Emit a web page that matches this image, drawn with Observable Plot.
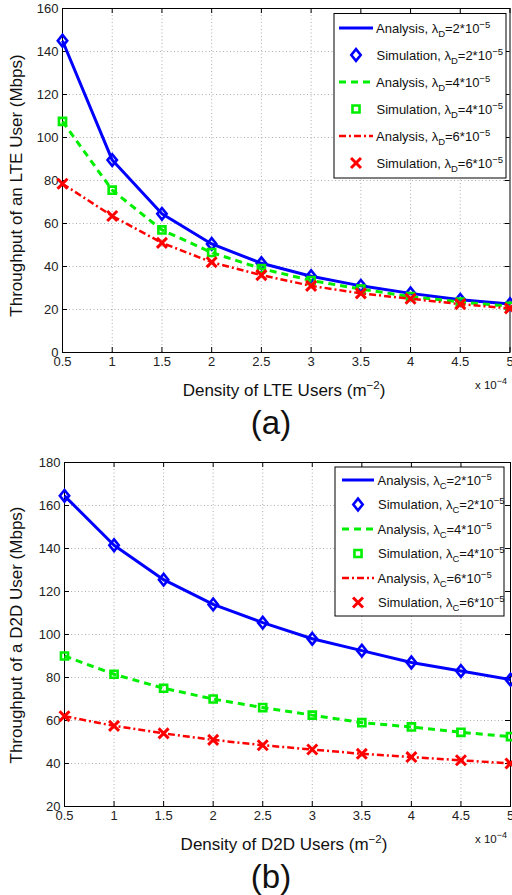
<!DOCTYPE html>
<html><head><meta charset="utf-8">
<script src="https://cdn.jsdelivr.net/npm/d3@7"></script>
<script src="https://cdn.jsdelivr.net/npm/@observablehq/plot@0.6"></script>
<style>
html,body{margin:0;padding:0;background:#fff;}
#root{position:relative;width:512px;height:895px;overflow:hidden;font-family:"Liberation Sans",Arial,Helvetica,sans-serif;}
#root svg{position:absolute;left:0;overflow:visible;}
</style></head>
<body><div id="root"></div>
<script>
// ---------- data ----------
const density = [0.5, 1, 1.5, 2, 2.5, 3, 3.5, 4, 4.5, 5]; // x 10^-4 users per m^2
const xTicks = [0.5, 1, 1.5, 2, 2.5, 3, 3.5, 4, 4.5, 5];
const yTicksA = [0, 20, 40, 60, 80, 100, 120, 140, 160];
const yTicksB = [20, 40, 60, 80, 100, 120, 140, 160, 180];
const lambdaValues = ["2", "4", "6"];

// (a) Throughput of an LTE user, lambda_D = 2,4,6 *10^-5
const lteAnalysis2 = [145, 89.5, 64.5, 50.5, 41.5, 35.5, 31, 27.5, 24.5, 22.5];
const lteAnalysis4 = [107.5, 75.5, 57, 46.5, 39, 33.5, 29.5, 26, 23.5, 21.5];
const lteAnalysis6 = [78.5, 63.5, 51, 42, 36, 31, 27.5, 25, 22.5, 20.5];
const lteSim2 = [145, 89.5, 64.5, 50.5, 41.5, 35.5, 31, 27.5, 24.5, 22.5];
const lteSim4 = [107.5, 75.5, 57, 46.5, 39, 33.5, 29.5, 26, 23.5, 21.5];
const lteSim6 = [78.5, 63.5, 51, 42, 36, 31, 27.5, 25, 22.5, 20.5];

// (b) Throughput of a D2D user, lambda_C = 2,4,6 *10^-5
const d2dAnalysis2 = [164.5, 141.5, 125.5, 114, 105.5, 98, 92.5, 87, 83, 79];
const d2dAnalysis4 = [90, 81.5, 75, 70, 66, 62.5, 59, 57, 54.5, 52.5];
const d2dAnalysis6 = [62, 57.5, 54, 51, 48.5, 46.5, 44.5, 43, 41.5, 40];
const d2dSim2 = [164.5, 141.5, 125.5, 114, 105.5, 98, 92.5, 87, 83, 79];
const d2dSim4 = [90, 81.5, 75, 70, 66, 62.5, 59, 57, 54.5, 52.5];
const d2dSim6 = [62, 57.5, 54, 51, 48.5, 46.5, 44.5, 43, 41.5, 40];

// ---------- styles ----------
const diamondSym = {draw(c, size) {
  const s = Math.sqrt(size), h = s * 0.66, w = s * 0.53;
  c.moveTo(0, -h); c.lineTo(w, 0); c.lineTo(0, h); c.lineTo(-w, 0); c.closePath();
}};
const seriesStyles = [
  {stroke: "#0000ff", dash: null, width: 3, symbol: diamondSym, r: 5, mw: 2.6},
  {stroke: "#00ee00", dash: "7,5", width: 3, symbol: "square", r: 4, mw: 2.6},
  {stroke: "#ff0000", dash: "7,3,2,3", width: 2.5, symbol: "times", r: 4.6, mw: 3}
];
const FONT = '"Liberation Sans", Arial, Helvetica, sans-serif';

const panels = [
  {top: 0, marginLeft: 62, marginRight: 2.5, yDomain: [0, 160], yTicks: yTicksA,
   analysis: [lteAnalysis2, lteAnalysis4, lteAnalysis6], sims: [lteSim2, lteSim4, lteSim6],
   greek: "D", yLabel: "Throughput of an LTE User (Mbps)", xLabel: "Density of LTE Users (m", tag: "(a)",
   yLabelY: 185.5,
   legend: {x0: 334, x1: 506, y0: 13.5, y1: 178, row0: 28, step: 27, lx0: 339, lx1: 373, tx: 376}},
  {top: 454, marginLeft: 64, marginRight: 2, yDomain: [20, 180], yTicks: yTicksB,
   analysis: [d2dAnalysis2, d2dAnalysis4, d2dAnalysis6], sims: [d2dSim2, d2dSim4, d2dSim6],
   greek: "C", yLabel: "Throughput of a D2D User (Mbps)", xLabel: "Density of D2D Users (m", tag: "(b)",
   yLabelY: 181,
   legend: {x0: 335, x1: 504, y0: 13, y1: 162, row0: 26, step: 24.5, lx0: 342, lx1: 374, tx: 377.5}}
];

const W = 512, H = 441, MT = 8, MB = 89;
const root = document.getElementById("root");

for (const p of panels) {
  const innerW = W - p.marginLeft - p.marginRight;
  const innerH = H - MT - MB;
  const marks = [
    Plot.ruleX(xTicks.slice(1, -1), {stroke: "#9a9a9a", strokeWidth: 0.8, strokeDasharray: "1,2.5"}),
    Plot.ruleY(p.yTicks.slice(1, -1), {stroke: "#9a9a9a", strokeWidth: 0.8, strokeDasharray: "1,2.5"}),
    Plot.ruleX(xTicks, {stroke: "#000", strokeWidth: 1, insetTop: innerH - 5}),
    Plot.ruleX(xTicks, {stroke: "#000", strokeWidth: 1, insetBottom: innerH - 5}),
    Plot.ruleY(p.yTicks, {stroke: "#000", strokeWidth: 1, insetRight: innerW - 5}),
    Plot.ruleY(p.yTicks, {stroke: "#000", strokeWidth: 1, insetLeft: innerW - 5}),
    Plot.frame({stroke: "#000", strokeWidth: 1})
  ];
  p.analysis.forEach((vals, i) => {
    const s = seriesStyles[i];
    const rows = density.map((x, j) => ({x, y: vals[j]}));
    marks.push(Plot.line(rows, {x: "x", y: "y", stroke: s.stroke, strokeWidth: s.width,
      strokeDasharray: s.dash, strokeLinejoin: "round", strokeLinecap: "butt"}));
    const simRows = density.map((x, j) => ({x, y: p.sims[i][j]}));
    marks.push(Plot.dot(simRows, {x: "x", y: "y", symbol: s.symbol, r: s.r, stroke: s.stroke,
      strokeWidth: s.mw, fill: "none"}));
  });

  const svg = Plot.plot({
    width: W, height: H, marginTop: MT, marginBottom: MB,
    marginLeft: p.marginLeft, marginRight: p.marginRight,
    style: {fontFamily: FONT, fontSize: "13px", color: "#222", background: "transparent", overflow: "visible"},
    x: {domain: [0.5, 5], ticks: xTicks, tickSize: 0, tickPadding: 4, label: null, tickFormat: d => String(d)},
    y: {domain: p.yDomain, ticks: p.yTicks, tickSize: 0, tickPadding: 4, label: null, tickFormat: d => String(d)},
    marks
  });
  svg.style.top = p.top + "px";
  root.appendChild(svg);

  const g = d3.select(svg).append("g").attr("font-family", FONT).attr("fill", "#111")
    .attr("text-anchor", "start");

  // y label
  g.append("text").attr("transform", `translate(17.5,${p.yLabelY}) rotate(-90)`)
    .attr("text-anchor", "middle").attr("dominant-baseline", "middle")
    .attr("font-size", 17).text(p.yLabel);

  // x label with superscript
  const xl = g.append("text").attr("x", 284).attr("y", 395.5).attr("text-anchor", "middle").attr("font-size", 17);
  xl.append("tspan").text(p.xLabel);
  xl.append("tspan").attr("dy", -6.5).attr("font-size", 11.5).text("\u22122");
  xl.append("tspan").attr("dy", 6.5).text(")");

  // x 10^-4 multiplier
  const mult = g.append("text").attr("x", 475).attr("y", 389).attr("font-size", 11.5)
    .attr("text-anchor", "start");
  mult.append("tspan").text("x 10");
  mult.append("tspan").attr("dy", -5).attr("font-size", 9).text("\u22124");

  // panel tag
  g.append("text").attr("x", 271).attr("y", 434).attr("text-anchor", "middle")
    .attr("font-size", 33).text(p.tag);

  // legend
  const L = p.legend;
  const lg = g.append("g").attr("text-anchor", "start");
  lg.append("rect").attr("x", L.x0).attr("y", L.y0).attr("width", L.x1 - L.x0).attr("height", L.y1 - L.y0)
    .attr("fill", "#fff").attr("stroke", "#000").attr("stroke-width", 1);
  let row = 0;
  lambdaValues.forEach((lv, i) => {
    const s = seriesStyles[i];
    ["Analysis", "Simulation"].forEach(kind => {
      const y = L.row0 + L.step * row;
      if (kind === "Analysis") {
        lg.append("line").attr("x1", L.lx0).attr("x2", L.lx1).attr("y1", y).attr("y2", y)
          .attr("stroke", s.stroke).attr("stroke-width", s.width)
          .attr("stroke-dasharray", s.dash);
      } else {
        const type = s.symbol === "square" ? d3.symbolSquare : s.symbol === "times" ? d3.symbolTimes : s.symbol;
        lg.append("path").attr("transform", `translate(${(L.lx0 + L.lx1) / 2},${y})`)
          .attr("d", d3.symbol(type, s.r * s.r * Math.PI)())
          .attr("fill", "none").attr("stroke", s.stroke).attr("stroke-width", s.mw);
      }
      const t = lg.append("text").attr("x", kind === "Analysis" ? L.tx : L.tx + 0.5).attr("y", y + 4.5)
        .attr("font-size", 13).attr("text-anchor", "start");
      t.append("tspan").text(kind + ", \u03bb");
      t.append("tspan").attr("dy", 4).attr("font-size", 9.5).text(p.greek);
      t.append("tspan").attr("dy", -4).text("=" + lv + "*10");
      t.append("tspan").attr("dy", -5).attr("font-size", 9.5).text("\u22125");
      row++;
    });
  });
}
</script>
</body></html>
